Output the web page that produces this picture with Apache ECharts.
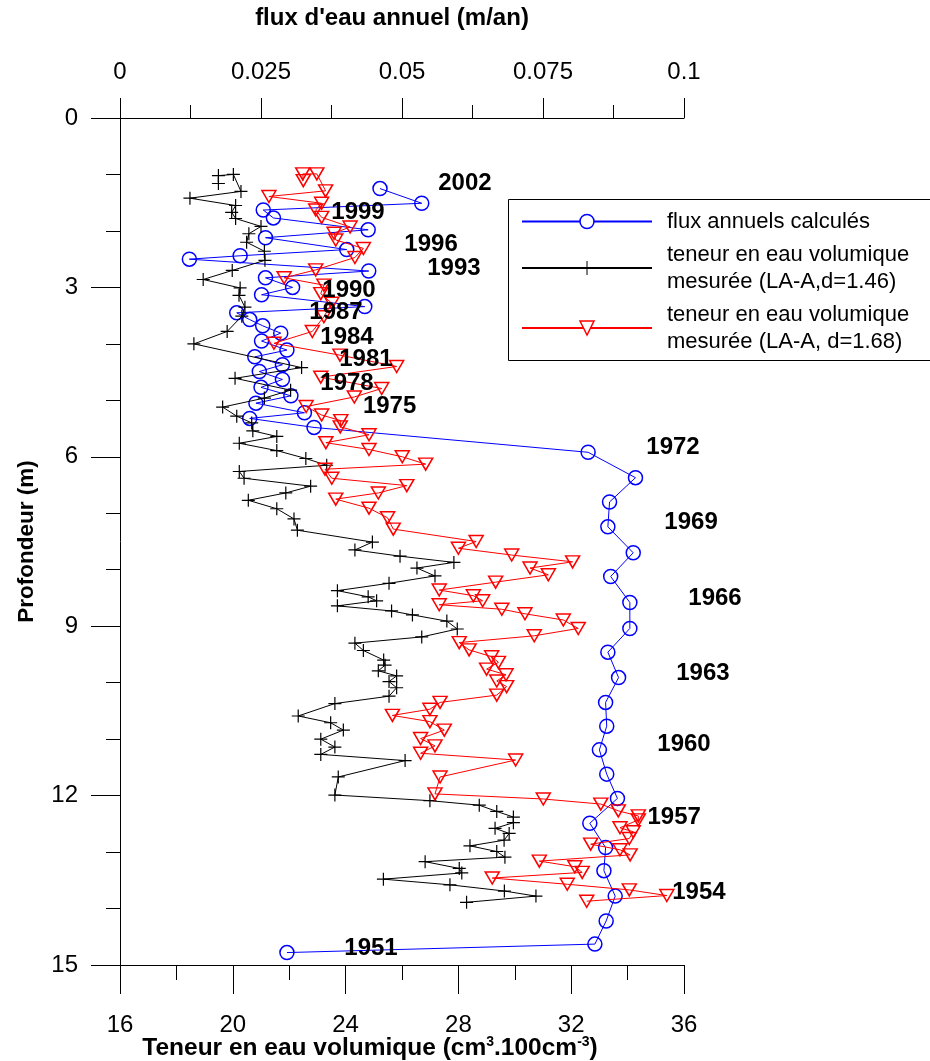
<!DOCTYPE html>
<html>
<head>
<meta charset="utf-8">
<script src="https://cdn.jsdelivr.net/npm/echarts@6/dist/echarts.min.js"></script>
<style>
  html, body { margin: 0; padding: 0; background: #fff; }
  #chart { width: 930px; height: 1061px; }
</style>
</head>
<body>
<div id="chart"></div>
<script>
// Annual water flux (m/an) against depth (m), one point per year
const fluxAnnuel = [
  [0.0461, 1.25], [0.0535, 1.51], [0.0254, 1.63], [0.0272, 1.77], [0.0440, 1.98],
  [0.0258, 2.12], [0.0402, 2.33], [0.0213, 2.44], [0.0123, 2.50], [0.0441, 2.71],
  [0.0258, 2.83], [0.0306, 3.00], [0.0251, 3.13], [0.0434, 3.34], [0.0207, 3.45],
  [0.0230, 3.57], [0.0253, 3.68], [0.0285, 3.81], [0.0251, 3.95], [0.0296, 4.11],
  [0.0239, 4.23], [0.0288, 4.37], [0.0247, 4.49], [0.0288, 4.63], [0.0250, 4.77],
  [0.0303, 4.92], [0.0241, 5.05], [0.0327, 5.22], [0.0230, 5.32], [0.0344, 5.48],
  [0.0830, 5.92], [0.0914, 6.37], [0.0868, 6.80], [0.0865, 7.24], [0.0910, 7.70],
  [0.0870, 8.12], [0.0904, 8.58], [0.0904, 9.04], [0.0865, 9.46], [0.0884, 9.91],
  [0.0861, 10.35], [0.0863, 10.77], [0.0850, 11.19], [0.0863, 11.62], [0.0882, 12.05],
  [0.0833, 12.49], [0.0861, 12.92], [0.0858, 13.33], [0.0878, 13.78], [0.0862, 14.22],
  [0.0842, 14.63], [0.0296, 14.78]
];

// Measured volumetric water content (cm3.100cm-3) against depth, LA-A d=1.46
const teneurD146 = [
  [19.49, 1.16], [19.49, 1.02], [20.02, 1.00], [20.29, 1.30], [18.48, 1.42],
  [20.10, 1.55], [19.96, 1.67], [20.10, 1.78], [21.00, 1.92], [20.57, 2.05],
  [20.49, 2.20], [21.12, 2.36], [21.14, 2.52], [19.98, 2.70], [18.95, 2.86],
  [20.26, 3.01], [20.22, 3.14], [20.43, 3.35], [20.32, 3.51], [19.80, 3.78],
  [18.62, 4.00], [22.44, 4.42], [20.08, 4.61], [22.05, 4.82], [21.12, 4.96],
  [19.64, 5.12], [20.14, 5.28], [20.67, 5.40], [20.71, 5.54], [21.56, 5.64],
  [20.23, 5.76], [21.56, 5.89], [22.59, 6.03], [23.33, 6.15], [20.23, 6.26],
  [20.40, 6.38], [22.76, 6.52], [21.88, 6.64], [20.55, 6.77], [21.56, 6.92],
  [22.17, 7.10], [22.29, 7.30], [24.95, 7.51], [24.33, 7.65], [25.93, 7.76],
  [27.84, 7.87], [26.53, 7.97], [27.17, 8.11], [25.54, 8.24], [23.71, 8.37],
  [24.80, 8.48], [25.10, 8.55], [23.71, 8.64], [25.63, 8.73], [26.37, 8.80],
  [27.59, 8.91], [27.96, 9.05], [26.70, 9.19], [24.33, 9.30], [24.63, 9.43],
  [25.35, 9.60], [25.40, 9.69], [25.16, 9.79], [25.81, 9.88], [25.54, 9.98],
  [25.81, 10.09], [25.54, 10.24], [23.62, 10.37], [22.32, 10.59], [23.47, 10.71],
  [23.92, 10.84], [23.12, 11.00], [23.62, 11.14], [23.12, 11.27], [26.11, 11.38],
  [23.74, 11.67], [23.62, 11.99], [26.99, 12.09], [28.74, 12.17], [29.36, 12.28],
  [29.95, 12.38], [29.95, 12.48], [29.30, 12.58], [29.80, 12.67], [29.62, 12.79],
  [28.41, 12.89], [29.36, 12.99], [29.65, 13.09], [26.82, 13.17], [28.03, 13.29],
  [28.12, 13.37], [25.34, 13.48], [27.70, 13.58], [29.63, 13.69], [30.75, 13.78],
  [28.29, 13.89]
];

// Measured volumetric water content against depth, LA-A d=1.68
const teneurD168 = [
  [22.50, 1.11], [22.48, 0.99], [22.98, 0.99], [23.29, 1.29], [21.28, 1.39],
  [23.15, 1.51], [22.94, 1.63], [23.15, 1.76], [24.16, 1.93], [23.59, 2.04],
  [23.65, 2.16], [24.63, 2.31], [24.33, 2.47], [22.94, 2.69], [21.82, 2.83],
  [23.23, 2.96], [23.12, 3.11], [23.51, 3.28], [23.23, 3.52], [22.82, 3.78],
  [21.46, 3.99], [23.80, 4.20], [25.81, 4.40], [23.12, 4.59], [25.28, 4.79],
  [24.31, 4.94], [22.60, 5.11], [23.15, 5.26], [23.83, 5.36], [23.81, 5.47],
  [24.83, 5.61], [23.30, 5.75], [24.83, 5.87], [26.01, 6.00], [26.84, 6.13],
  [23.27, 6.22], [23.51, 6.38], [26.17, 6.51], [25.16, 6.64], [23.65, 6.75],
  [24.83, 6.91], [25.49, 7.08], [25.69, 7.28], [28.63, 7.50], [28.00, 7.62],
  [29.89, 7.74], [32.05, 7.86], [30.54, 7.97], [31.19, 8.09], [29.32, 8.22],
  [27.32, 8.36], [28.53, 8.46], [28.86, 8.55], [27.32, 8.62], [29.54, 8.70],
  [30.36, 8.78], [31.72, 8.89], [32.25, 9.04], [30.69, 9.17], [28.03, 9.29],
  [28.38, 9.42], [29.18, 9.54], [29.42, 9.64], [29.00, 9.76], [29.69, 9.86],
  [29.36, 9.97], [29.71, 10.07], [29.36, 10.22], [27.35, 10.35], [26.99, 10.47],
  [25.66, 10.58], [26.99, 10.69], [27.50, 10.84], [26.66, 10.99], [27.17, 11.12],
  [26.66, 11.25], [30.03, 11.37], [27.35, 11.67], [27.17, 11.97], [31.01, 12.06],
  [33.05, 12.15], [33.67, 12.27], [34.38, 12.36], [34.38, 12.43], [33.73, 12.57],
  [34.20, 12.64], [34.06, 12.76], [32.69, 12.86], [33.73, 12.96], [34.09, 13.05],
  [30.87, 13.16], [32.13, 13.26], [32.39, 13.36], [29.20, 13.46], [31.86, 13.57],
  [34.06, 13.67], [35.39, 13.77], [32.55, 13.87]
];

// Year annotations, placed in (water content, depth) units
const anneeTexte = ['2002', '1999', '1996', '1993', '1990', '1987', '1984', '1981', '1978',
                    '1975', '1972', '1969', '1966', '1963', '1960', '1957', '1954', '1951'];
const anneeX = [28.23, 24.44, 27.03, 27.84, 24.12, 23.66, 24.05, 24.72, 24.05,
                25.56, 35.61, 36.25, 37.10, 36.67, 36.00, 35.65, 36.53, 24.90];
const anneeProf = [1.15, 1.68, 2.23, 2.66, 3.05, 3.45, 3.88, 4.27, 4.70,
                   5.11, 5.84, 7.16, 8.50, 9.83, 11.10, 12.39, 13.71, 14.70];

const NOM_FLUX = 'flux annuels calculés';
const NOM_146 = 'teneur en eau volumique\nmesurée (LA-A,d=1.46)';
const NOM_168 = 'teneur en eau volumique\nmesurée (LA-A, d=1.68)';

const FONT = '"Liberation Sans", Arial, Helvetica, sans-serif';
const BLEU = '#0000ff', ROUGE = '#ff0000', NOIR = '#000000';
const trait = { color: NOIR, width: 1 };

// Legend frame: open on the right, running past the chart edge
const CADRE_LEGENDE = { left: 508.5, top: 199.5, bottom: 360.5, right: 960 };

const chart = echarts.init(document.getElementById('chart'), null, { renderer: 'canvas' });

chart.setOption({
  animation: false,
  backgroundColor: '#fff',
  grid: { left: 120, top: 118, width: 564, height: 847, containLabel: false, outerBoundsMode: 'none' },
  legend: {
    orient: 'vertical',
    left: 508,
    top: 199,
    selectedMode: false,
    data: [
      { name: NOM_FLUX, itemStyle: { color: '#fff', borderColor: BLEU, borderWidth: 1.5 } },
      { name: NOM_146, itemStyle: { borderColor: NOIR, borderWidth: 1 } },
      { name: NOM_168, itemStyle: { color: '#fff', borderColor: ROUGE, borderWidth: 1.5 } }
    ],
    itemWidth: 130,
    itemHeight: 17.5,
    itemGap: 6,
    padding: [9, 50, 6, 13],
    backgroundColor: '#fff',
    borderWidth: 0,
    textStyle: { fontFamily: FONT, fontSize: 22, lineHeight: 27, color: NOIR, padding: [0, 0, 0, 10] }
  },
  graphic: [
    {
      type: 'polyline', z: 100, silent: true,
      shape: {
        points: [
          [CADRE_LEGENDE.right, CADRE_LEGENDE.top],
          [CADRE_LEGENDE.left, CADRE_LEGENDE.top],
          [CADRE_LEGENDE.left, CADRE_LEGENDE.bottom],
          [CADRE_LEGENDE.right, CADRE_LEGENDE.bottom]
        ]
      },
      style: { stroke: NOIR, lineWidth: 1, fill: null }
    }
  ],
  xAxis: [
    {
      type: 'value', position: 'bottom', min: 16, max: 36, interval: 4,
      axisLine: { show: true, onZero: false, lineStyle: trait },
      axisTick: { show: true, length: 29, lineStyle: trait },
      minorTick: { show: true, splitNumber: 2, length: 15, lineStyle: trait },
      splitLine: { show: false },
      axisLabel: { margin: 48, fontFamily: FONT, fontSize: 24, color: NOIR },
      name: '{b|Teneur en eau volumique (cm}{s|3}{b|.100cm}{s|-3}{b|)}',
      nameLocation: 'middle',
      nameGap: 70,
      nameMoveOverlap: false,
      nameTextStyle: {
        padding: [0, 64, 0, 0],
        rich: {
          b: { fontFamily: FONT, fontSize: 24.5, fontWeight: 'bold', color: NOIR, lineHeight: 26 },
          s: { fontFamily: FONT, fontSize: 14, fontWeight: 'bold', color: NOIR, lineHeight: 14, verticalAlign: 'top' }
        }
      }
    },
    {
      type: 'value', position: 'top', min: 0, max: 0.1, interval: 0.025,
      axisLine: { show: true, onZero: false, lineStyle: trait },
      axisTick: { show: true, length: 20, lineStyle: trait },
      minorTick: { show: true, splitNumber: 2, length: 13, lineStyle: trait },
      splitLine: { show: false },
      axisLabel: { margin: 34, fontFamily: FONT, fontSize: 24, color: NOIR },
      name: "flux d'eau annuel (m/an)",
      nameLocation: 'middle',
      nameGap: 88,
      nameMoveOverlap: false,
      nameTextStyle: { fontFamily: FONT, fontSize: 24, fontWeight: 'bold', color: NOIR, padding: [0, 20, 0, 0] }
    }
  ],
  yAxis: {
    type: 'value', inverse: true, min: 0, max: 15, interval: 3,
    axisLine: { show: true, onZero: false, lineStyle: trait },
    axisTick: { show: true, length: 29, lineStyle: trait },
    minorTick: { show: true, splitNumber: 3, length: 14, lineStyle: trait },
    splitLine: { show: false },
    axisLabel: { margin: 42, fontFamily: FONT, fontSize: 24, color: NOIR },
    name: 'Profondeur (m)',
    nameLocation: 'middle',
    nameGap: 82,
    nameMoveOverlap: false,
    nameTextStyle: { fontFamily: FONT, fontSize: 22.5, fontWeight: 'bold', color: NOIR }
  },
  series: [
    {
      name: NOM_FLUX, type: 'line', xAxisIndex: 1, yAxisIndex: 0,
      data: fluxAnnuel,
      symbol: 'circle', symbolSize: 14,
      lineStyle: { color: BLEU, width: 1 },
      itemStyle: { color: 'rgba(0,0,0,0)', borderColor: BLEU, borderWidth: 1.5 },
      emphasis: { disabled: true },
      z: 2
    },
    {
      name: NOM_146, type: 'line', xAxisIndex: 0, yAxisIndex: 0,
      data: teneurD146,
      symbol: 'path://M0,6.5L13,6.5M6.5,0L6.5,13', symbolSize: 13,
      lineStyle: { color: NOIR, width: 1 },
      itemStyle: { color: 'rgba(0,0,0,0)', borderColor: NOIR, borderWidth: 1.2 },
      emphasis: { disabled: true },
      z: 3
    },
    {
      name: NOM_168, type: 'line', xAxisIndex: 0, yAxisIndex: 0,
      data: teneurD168,
      symbol: 'triangle', symbolRotate: 180, symbolSize: [14, 12],
      lineStyle: { color: ROUGE, width: 1 },
      itemStyle: { color: 'rgba(0,0,0,0)', borderColor: ROUGE, borderWidth: 1.5 },
      emphasis: { disabled: true },
      z: 4
    },
    {
      name: 'annees', type: 'scatter', xAxisIndex: 0, yAxisIndex: 0,
      data: anneeTexte.map((t, i) => ({ name: t, value: [anneeX[i], anneeProf[i]] })),
      symbolSize: 1,
      clip: false,
      silent: true,
      itemStyle: { color: 'rgba(0,0,0,0)', opacity: 1 },
      label: {
        show: true, position: 'inside', formatter: '{b}',
        fontFamily: FONT, fontSize: 24, fontWeight: 'bold', color: NOIR,
        textBorderWidth: 0, opacity: 1
      },
      z: 5
    }
  ]
});
</script>
</body>
</html>
